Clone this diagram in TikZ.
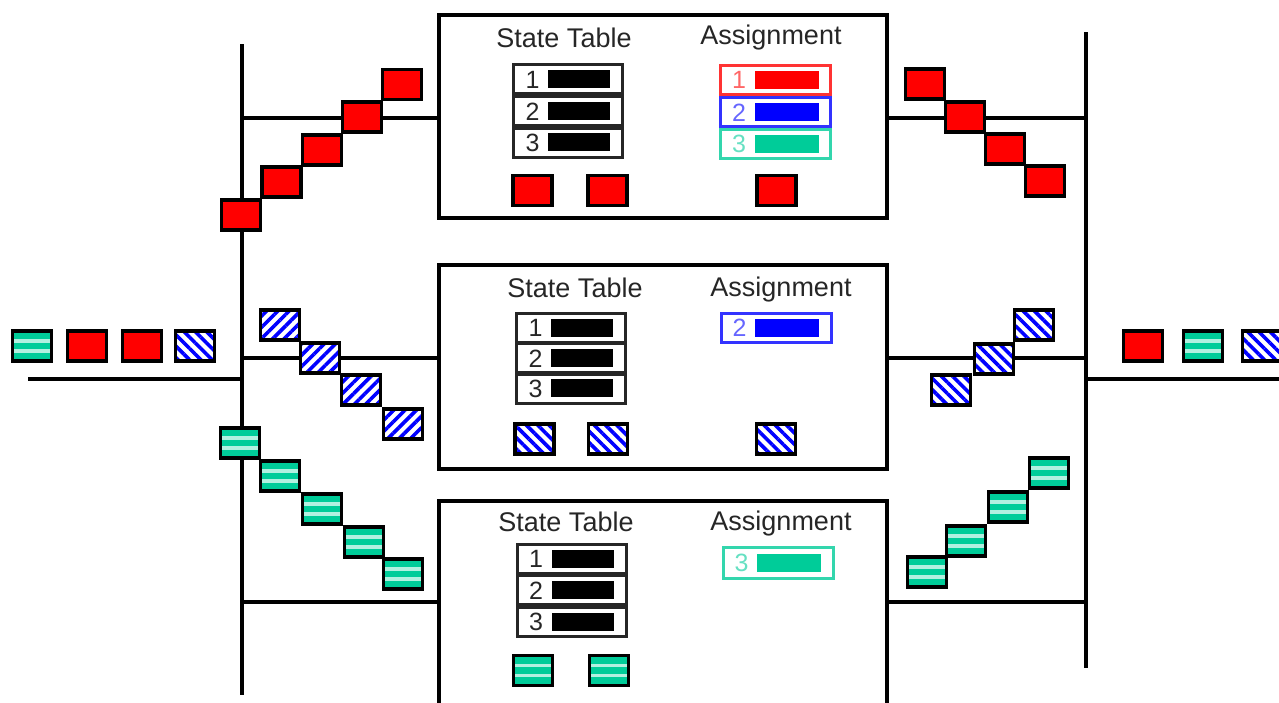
\documentclass[tikz,border=0pt]{standalone}
\usepackage{fontspec}
\setmainfont{Liberation Sans}
\usetikzlibrary{patterns.meta}

\definecolor{pktred}{RGB}{255,0,0}
\definecolor{pktblue}{RGB}{0,0,255}
\definecolor{pktgreen}{RGB}{0,204,153}

\newcommand\stentry[1]{#1\hspace{9pt}\textcolor{black}{\rule{62pt}{18pt}}}
\newcommand\asentry[2]{\textcolor{#1!60}{#2}\hspace{9pt}\textcolor{#1}{\rule{64pt}{18pt}}}

\tikzset{
  bus/.style={line width=3.2pt},
  ctrlbox/.style={draw, line width=4pt, minimum width=448pt, inner sep=0pt},
  title/.style={font=\fontsize{27}{30}\selectfont, text=black!85},
  strow/.style={draw=black!85, line width=3pt, minimum width=109pt,
    minimum height=29pt, inner sep=0pt, text=black!85,
    font=\fontsize{25}{25}\selectfont},
  asrow/.style={draw=#1!80, line width=3pt, minimum width=110pt,
    minimum height=29pt, inner sep=0pt, font=\fontsize{25}{25}\selectfont},
  pkt/.style={draw, line width=3.6pt, minimum width=39pt, minimum height=30pt, inner sep=0pt},
  redpkt/.style={pkt, fill=pktred},
  nepkt/.style={pkt, preaction={fill=white},
    pattern={Lines[angle=45, distance=8pt, line width=3.6pt]}, pattern color=pktblue},
  nwpkt/.style={pkt, preaction={fill=white},
    pattern={Lines[angle=-45, distance=8pt, line width=3.6pt]}, pattern color=pktblue},
  grnpkt/.style={pkt, fill=pktgreen,
    path picture={
      \foreach \s in {-5pt,5pt}
        \draw[line width=3.4pt, white!70!pktgreen]
          ([yshift=\s]path picture bounding box.west) -- ([yshift=\s]path picture bounding box.east);
    }}
}

\begin{document}
\begin{tikzpicture}[x=1pt,y=-1pt]
  \useasboundingbox (0,0) rectangle (1279,702);

  % buses
  \coordinate (lbtop) at (242,44);
  \coordinate (lbbot) at (242,695);
  \coordinate (rbtop) at (1086,32);
  \coordinate (rbbot) at (1086,668);
  \coordinate (inend) at (28,379);
  \coordinate (outend) at (1279,379);
  \draw[bus] (lbtop) -- (lbbot);
  \draw[bus] (rbtop) -- (rbbot);
  \draw[line width=4pt] (inend) -- (inend -| lbtop);
  \draw[line width=4pt] (outend) -- (outend -| rbtop);

  \node[ctrlbox, minimum height=203pt] (box1) at (663,116.5) {};
  \node[ctrlbox, minimum height=204pt] (box2) at (663,367) {};
  \node[ctrlbox, minimum height=257pt] (box3) at (663,629.5) {};

  \coordinate (tap1) at (0,118);
  \coordinate (tap2) at (0,358);
  \coordinate (tap3) at (0,602);
  \foreach \b in {1,2,3}
  {
    \draw[bus] (lbtop |- tap\b) -- (box\b.west |- tap\b);
    \draw[bus] (box\b.east |- tap\b) -- (rbtop |- tap\b);
  }

  % box 1
  \node[title] (st1) at (564,38) {State Table};
  \node[title] (as1) at (771,38) {Assignment};
  \node[strow] (st1r1) at (568,79) {\stentry{1}};
  \node[strow] (st1r2) at (568,111) {\stentry{2}};
  \node[strow] (st1r3) at (568,142.5) {\stentry{3}};
  \node[asrow=pktred] (as1r1) at (775.5,79.5) {\asentry{pktred}{1}};
  \node[asrow=pktblue] (as1r2) at (775.5,112) {\asentry{pktblue}{2}};
  \node[asrow=pktgreen] (as1r3) at (775.5,144) {\asentry{pktgreen}{3}};
  \node[redpkt] (b1p1) at (532.5,190.5) {};
  \node[redpkt] (b1p2) at (607.5,190.5) {};
  \node[redpkt] (b1p3) at (776.5,190.5) {};

  % box 2
  \node[title] (st2) at (575,288) {State Table};
  \node[title] (as2) at (781,290) {Assignment};
  \node[strow] (st2r1) at (571,327.5) {\stentry{1}};
  \node[strow] (st2r2) at (571,358) {\stentry{2}};
  \node[strow] (st2r3) at (571,388.5) {\stentry{3}};
  \node[asrow=pktblue] (as2r1) at (776,327.5) {\asentry{pktblue}{2}};
  \node[nwpkt] (b2p1) at (534.5,439) {};
  \node[nwpkt] (b2p2) at (608,439) {};
  \node[nwpkt] (b2p3) at (776,439) {};

  % box 3
  \node[title] (st3) at (566,522) {State Table};
  \node[title] (as3) at (781,524) {Assignment};
  \node[strow] (st3r1) at (571.5,558.5) {\stentry{1}};
  \node[strow] (st3r2) at (571.5,590) {\stentry{2}};
  \node[strow] (st3r3) at (571.5,622) {\stentry{3}};
  \node[asrow=pktgreen, minimum height=31pt] (as3r1) at (778,563) {\asentry{pktgreen}{3}};
  \node[grnpkt] (b3p1) at (533,670.5) {};
  \node[grnpkt] (b3p2) at (609,670.5) {};

  % packets in transit
  \foreach \x/\y [count=\i] in {241/215, 281.5/182, 322/150, 362/117, 402/84.5}
    \node[redpkt] (lr\i) at (\x,\y) {};
  \foreach \x/\y [count=\i] in {280/325, 320/358, 361/390, 403/424}
    \node[nepkt] (lb\i) at (\x,\y) {};
  \foreach \x/\y [count=\i] in {240/443, 280/476, 322/509, 364/542, 403/574}
    \node[grnpkt] (lg\i) at (\x,\y) {};
  \foreach \x/\y [count=\i] in {925/84, 965/117, 1005/149, 1045/181}
    \node[redpkt] (rr\i) at (\x,\y) {};
  \foreach \x/\y [count=\i] in {951/390, 994/359, 1034/325}
    \node[nwpkt] (rb\i) at (\x,\y) {};
  \foreach \x/\y [count=\i] in {927/572, 966/541, 1008/507, 1049/473}
    \node[grnpkt] (rg\i) at (\x,\y) {};

  % queues in and out
  \node[grnpkt] (in1) at (32,346) {};
  \node[redpkt] (in2) at (87,346) {};
  \node[redpkt] (in3) at (142,346) {};
  \node[nwpkt] (in4) at (195,346) {};
  \node[redpkt] (out1) at (1143,346) {};
  \node[grnpkt] (out2) at (1203,346) {};
  \node[nwpkt] (out3) at (1262,346) {};
\end{tikzpicture}
\end{document}
